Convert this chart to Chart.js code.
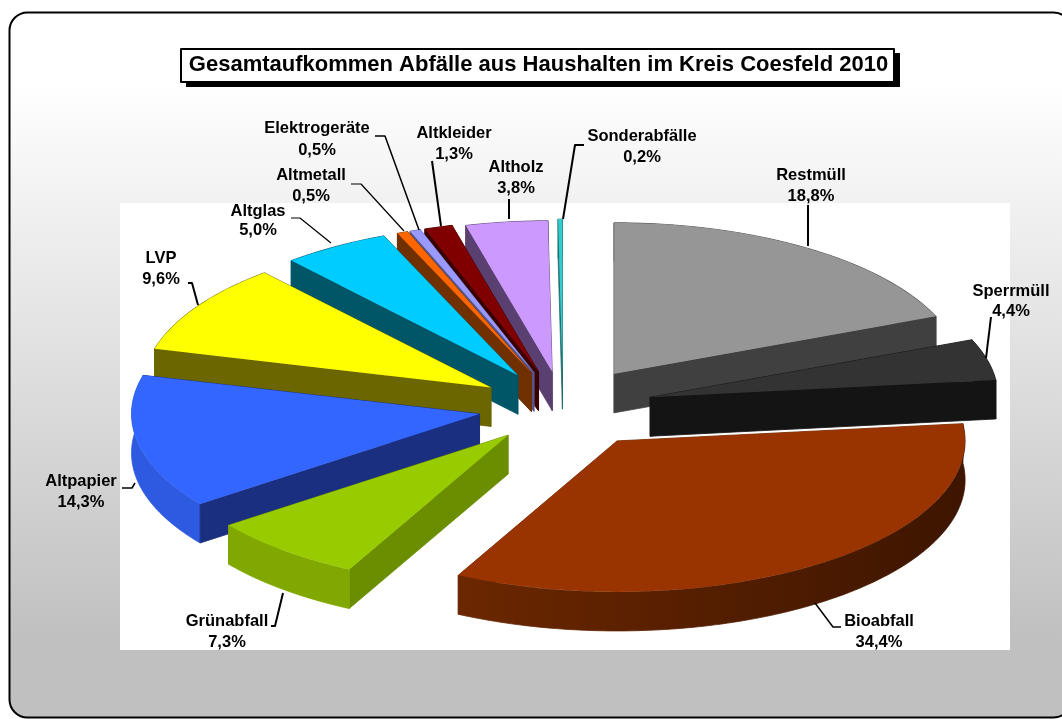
<!DOCTYPE html>
<html>
<head>
<meta charset="utf-8">
<title>Gesamtaufkommen Abfälle</title>
<script src="https://cdn.jsdelivr.net/npm/chart.js@4/dist/chart.umd.min.js"></script>
<style>
html, body { margin: 0; padding: 0; background: #fff; }
canvas { display: block; }
</style>
</head>
<body>
<canvas id="abfall" width="1062" height="719"></canvas>
<script>
const titleText = 'Gesamtaufkommen Abfälle aus Haushalten im Kreis Coesfeld 2010';
const categories = ['Restmüll', 'Sperrmüll', 'Bioabfall', 'Grünabfall', 'Altpapier', 'LVP', 'Altglas', 'Altmetall', 'Elektrogeräte', 'Altkleider', 'Altholz', 'Sonderabfälle'];
const shares = [18.8, 4.4, 34.4, 7.3, 14.3, 9.6, 5.0, 0.5, 0.5, 1.3, 3.8, 0.2];

const topColors = ['#969696', '#333333', '#993300', '#99cc00', '#3366ff', '#ffff00', '#00ccff', '#ff6600', '#9999ff', '#800000', '#cc99ff', '#33cccc'];
const cutColors = ['#404040', '#141414', '#6b2700', '#6b8e00', '#1a2f80', '#6b6600', '#005566', '#703000', '#55558a', '#3a0000', '#5a4070', '#1f6f6f'];
const rimLeft = ['#404040', '#141414', '#6b2700', '#80a800', '#2d5ae0', '#6b6600', '#005566', '#703000', '#55558a', '#3a0000', '#5a4070', '#1f6f6f'];
const rimRight = ['#404040', '#141414', '#3d1500', '#80a800', '#2d5ae0', '#6b6600', '#005566', '#703000', '#55558a', '#3a0000', '#5a4070', '#1f6f6f'];

// how far each slice is pulled out, back to front drawing order
const explode = [92, 90, 95, 85, 85, 85, 86, 85, 85, 85, 82, 85];
const drawOrder = [11, 10, 9, 8, 7, 6, 5, 0, 4, 3, 2, 1];

const pieRadius = 348;
const squash = 0.434;
const depth = 39;

// label centres: x, y of name, y of value
const labelPos = [
    [811, 175, 196], [1011, 291, 311], [879, 621, 642], [227, 621, 642],
    [81, 481, 502], [161, 258, 279], [258, 211, 230], [311, 175, 196],
    [317, 128, 150], [454, 133, 154], [516, 167, 188], [642, 136, 157]
];
// leader lines as polylines, last number is the line width
const leaders = [
    [[808, 205], [808, 246], 2], [[991, 317], [986, 358], 2], [[815, 603], [833, 627], [841, 627], 1.5],
    [[283, 593], [275, 626], [271, 626], 2], [[122, 488], [132, 488], [135, 483], 1.5], [[188, 283], [192, 283], [198, 305], 2],
    [[291, 218], [300, 218], [331, 243], 1.2], [[351, 184], [361, 184], [404, 231], 1.2], [[375, 136], [385, 136], [419, 230], 1.5],
    [[432, 161], [441, 226], 2], [[509, 199], [509, 219], 2], [[584, 145], [575, 145], [563, 219], 2]
];

function percent(v) {
    return v.toFixed(1).replace('.', ',') + '%';
}

function fillBand(ctx, pts, color) {
    ctx.beginPath();
    pts.forEach((p, i) => i ? ctx.lineTo(p[0], p[1]) : ctx.moveTo(p[0], p[1]));
    ctx.closePath();
    ctx.fillStyle = color;
    ctx.strokeStyle = color;
    ctx.lineWidth = 0.8;
    ctx.fill();
    ctx.stroke();
}

function drawSlice(ctx, chart, arc, i) {
    const mid = (arc.startAngle + arc.endAngle) / 2;
    const ax = arc.x + explode[i] * Math.cos(mid);
    const ay = arc.y + explode[i] * Math.sin(mid) * squash;
    const onRim = t => [ax + arc.outerRadius * Math.cos(t), ay + arc.outerRadius * Math.sin(t) * squash];

    const cutFace = t => {
        const q = onRim(t);
        return [[ax, ay], q, [q[0], q[1] + depth], [ax, ay + depth]];
    };
    const rimTop = [];
    const steps = Math.max(2, Math.ceil((arc.endAngle - arc.startAngle) * 60));
    for (let s = 0; s <= steps; s++) {
        rimTop.push(onRim(arc.startAngle + (arc.endAngle - arc.startAngle) * s / steps));
    }
    const rimFace = rimTop.concat(rimTop.slice().reverse().map(p => [p[0], p[1] + depth]));
    const xs = rimTop.map(p => p[0]);
    const rimFill = ctx.createLinearGradient(Math.min(...xs), 0, Math.max(...xs), 0);
    rimFill.addColorStop(0, rimLeft[i]);
    rimFill.addColorStop(1, rimRight[i]);

    const faces = [
        { pts: cutFace(arc.startAngle), color: cutColors[i] },
        { pts: cutFace(arc.endAngle), color: cutColors[i] },
        { pts: rimFace, color: rimFill }
    ];
    const meanY = pts => pts.reduce((sum, p) => sum + p[1], 0) / pts.length;
    faces.sort((a, b) => meanY(a.pts) - meanY(b.pts));
    faces.forEach(f => fillBand(ctx, f.pts, f.color));

    // the top is the library's own arc, flattened and moved out
    ctx.save();
    ctx.translate(ax, ay);
    ctx.scale(1, squash);
    ctx.translate(-arc.x, -arc.y);
    arc.draw(ctx, chart.chartArea);
    ctx.restore();
}

const pie3d = {
    id: 'pie3d',
    beforeDraw(chart) {
        const ctx = chart.ctx;
        ctx.save();
        const bg = ctx.createLinearGradient(0, 80, 0, 640);
        bg.addColorStop(0, '#ffffff');
        bg.addColorStop(1, '#c0c0c0');
        ctx.beginPath();
        ctx.roundRect(9.5, 12.5, 1062, 705, 18);
        ctx.fillStyle = bg;
        ctx.fill();
        ctx.lineWidth = 2;
        ctx.strokeStyle = '#000';
        ctx.stroke();
        ctx.fillStyle = '#fff';
        ctx.fillRect(120, 203, 890, 447);
        ctx.restore();
    },
    beforeDatasetDraw(chart, args) {
        const ctx = chart.ctx;
        const arcs = args.meta.data;
        ctx.save();
        drawOrder.forEach(i => drawSlice(ctx, chart, arcs[i], i));
        ctx.restore();
        return false;
    },
    afterDatasetsDraw(chart) {
        const ctx = chart.ctx;
        ctx.save();
        ctx.strokeStyle = '#000';
        ctx.lineJoin = 'round';
        leaders.forEach(line => {
            ctx.lineWidth = line[line.length - 1];
            ctx.beginPath();
            line.slice(0, -1).forEach((p, i) => i ? ctx.lineTo(p[0], p[1]) : ctx.moveTo(p[0], p[1]));
            ctx.stroke();
        });

        ctx.fillStyle = '#000';
        ctx.font = 'bold 16.5px "Liberation Sans"';
        ctx.textAlign = 'center';
        ctx.textBaseline = 'middle';
        categories.forEach((name, i) => {
            ctx.fillText(name, labelPos[i][0], labelPos[i][1]);
            ctx.fillText(percent(shares[i]), labelPos[i][0], labelPos[i][2]);
        });

        // title box with its hard shadow
        ctx.fillStyle = '#000';
        ctx.fillRect(186, 53, 714, 34);
        ctx.fillStyle = '#fff';
        ctx.fillRect(181, 49, 713, 33);
        ctx.lineWidth = 2;
        ctx.strokeRect(181, 49, 713, 33);
        ctx.fillStyle = '#000';
        ctx.font = 'bold 22px "Liberation Sans"';
        ctx.fillText(titleText, 538.5, 65);
        ctx.restore();
    }
};

new Chart(document.getElementById('abfall'), {
    type: 'pie',
    data: {
        labels: categories,
        datasets: [{
            data: shares,
            backgroundColor: topColors,
            borderWidth: 0
        }]
    },
    plugins: [pie3d],
    options: {
        responsive: false,
        animation: false,
        radius: pieRadius,
        layout: { padding: { left: 64, top: 95 } },
        plugins: { legend: { display: false }, tooltip: { enabled: false } }
    }
});
</script>
</body>
</html>
